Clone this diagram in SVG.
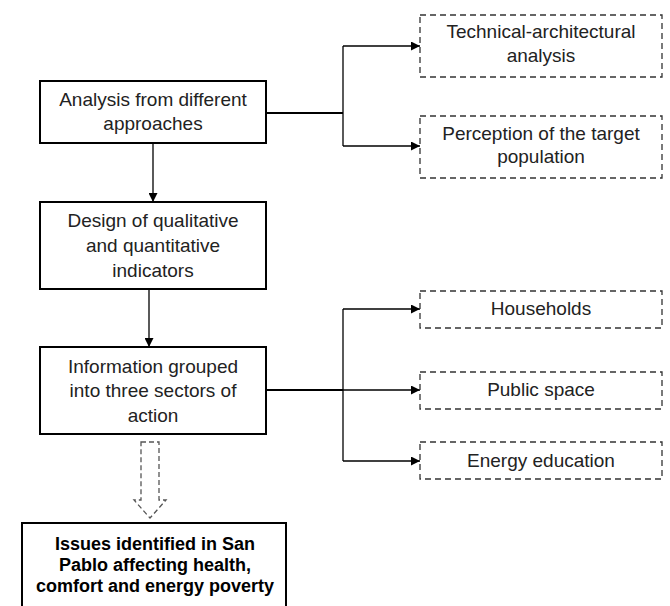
<svg xmlns="http://www.w3.org/2000/svg" width="670" height="606" viewBox="0 0 670 606">
<style>
  .box { fill: #fff; stroke: #000; stroke-width: 2; }
  .dbox { fill: #fff; stroke: #333; stroke-width: 1.3; stroke-dasharray: 6 4; }
  .t { font-family: "Liberation Sans", Arial, sans-serif; font-size: 19px; fill: #222; text-anchor: middle; }
  .tb { font-family: "Liberation Sans", Arial, sans-serif; font-size: 18px; font-weight: bold; fill: #000; text-anchor: middle; }
  .c { fill: none; stroke: #000; stroke-width: 1.3; }
  .c2 { fill: none; stroke: #000; stroke-width: 2; }
</style>
<defs>
  <marker id="ah" viewBox="0 0 10 10" refX="10" refY="5" markerWidth="9" markerHeight="9" markerUnits="userSpaceOnUse" orient="auto">
    <path d="M0,0 L10,5 L0,10 z" fill="#000"/>
  </marker>
</defs>
<rect width="670" height="606" fill="#fff"/>
<g id="connectors">
  <path class="c2" d="M266,113 H343"/>
  <path class="c" d="M343,46 V146"/>
  <path class="c" d="M343,46 H420" marker-end="url(#ah)"/>
  <path class="c" d="M343,146 H420" marker-end="url(#ah)"/>
  <path class="c" d="M153,143 V202" marker-end="url(#ah)"/>
  <path class="c" d="M149,289 V347" marker-end="url(#ah)"/>
  <path class="c" d="M343,309 V461"/>
  <path class="c" d="M343,309 H420" marker-end="url(#ah)"/>
  <path class="c2" d="M266,390 H343"/>
  <path class="c" d="M343,390 H420" marker-end="url(#ah)"/>
  <path class="c" d="M343,461 H420" marker-end="url(#ah)"/>
  <path d="M141,442 H159 V500 H166 L150,518 L134,500 H141 Z" fill="#fff" stroke="#555" stroke-width="1.3" stroke-dasharray="5 3"/>
</g>
<g id="n1">
  <rect class="box" x="40" y="81" width="226" height="62"/>
  <text class="t" x="153" y="106">Analysis from different</text>
  <text class="t" x="153" y="130">approaches</text>
</g>
<g id="n2">
  <rect class="dbox" x="420" y="15" width="242" height="62"/>
  <text class="t" x="541" y="38">Technical-architectural</text>
  <text class="t" x="541" y="62">analysis</text>
</g>
<g id="n3">
  <rect class="dbox" x="420" y="116" width="242" height="62"/>
  <text class="t" x="541" y="140">Perception of the target</text>
  <text class="t" x="541" y="163">population</text>
</g>
<g id="n4">
  <rect class="box" x="40" y="202" width="226" height="87"/>
  <text class="t" x="153" y="227">Design of qualitative</text>
  <text class="t" x="153" y="252">and quantitative</text>
  <text class="t" x="153" y="277">indicators</text>
</g>
<g id="n5">
  <rect class="box" x="40" y="347" width="226" height="87"/>
  <text class="t" x="153" y="373">Information grouped</text>
  <text class="t" x="153" y="397">into three sectors of</text>
  <text class="t" x="153" y="422">action</text>
</g>
<g id="n6">
  <rect class="dbox" x="420" y="291" width="242" height="37"/>
  <text class="t" x="541" y="315">Households</text>
</g>
<g id="n7">
  <rect class="dbox" x="420" y="372" width="242" height="37"/>
  <text class="t" x="541" y="396">Public space</text>
</g>
<g id="n8">
  <rect class="dbox" x="420" y="442" width="242" height="37"/>
  <text class="t" x="541" y="467">Energy education</text>
</g>
<g id="n9">
  <rect class="box" x="22" y="523" width="264" height="95"/>
  <text class="tb" x="155" y="550">Issues identified in San</text>
  <text class="tb" x="155" y="571">Pablo affecting health,</text>
  <text class="tb" x="155" y="592">comfort and energy poverty</text>
</g>
</svg>
